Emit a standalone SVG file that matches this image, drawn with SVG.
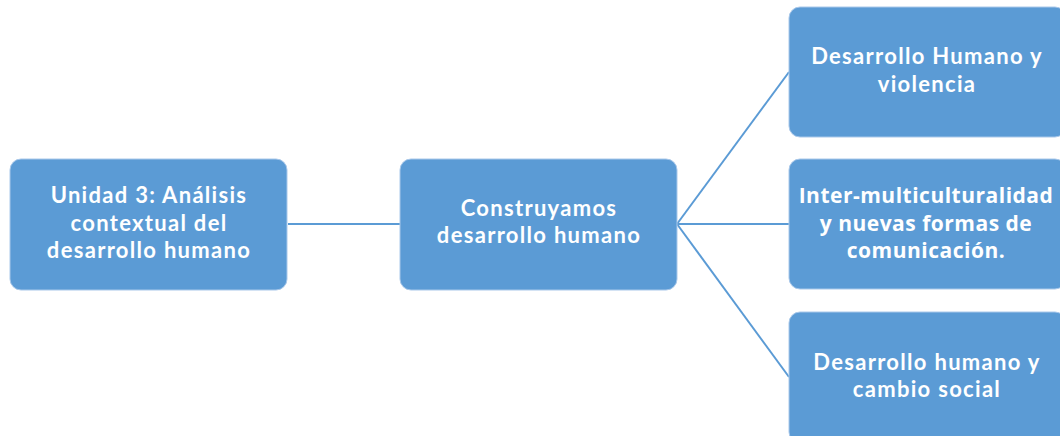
<svg xmlns="http://www.w3.org/2000/svg" width="1060" height="436" viewBox="0 0 1060 436">
<style>
.box{fill:#5B9BD5;stroke:#A9C8EA;stroke-width:1}
.t{font-family:Lato,"Liberation Sans",sans-serif;font-weight:bold;font-size:22px;letter-spacing:1.3px;fill:#FFFFFF;text-anchor:middle}
.o{font-family:"Open Sans","Liberation Sans",sans-serif;font-weight:bold;font-size:21px;letter-spacing:0.5px;fill:#FFFFFF;text-anchor:middle}
.c{stroke:#5B9BD5;stroke-width:2;fill:none}
</style>
<rect width="1060" height="436" fill="#FFFFFF"/>
<g id="connectors">
<line class="c" x1="288" y1="224" x2="400" y2="224"/>
<line class="c" x1="677" y1="224" x2="789" y2="72"/>
<line class="c" x1="677" y1="224" x2="789" y2="224"/>
<line class="c" x1="677" y1="224" x2="789" y2="377"/>
</g>
<g id="n1">
<rect class="box" x="10" y="159" width="277" height="131" rx="11"/>
<text class="t" x="149" y="203">Unidad 3: Análisis</text>
<text class="t" x="149" y="231">contextual del</text>
<text class="t" x="149" y="258">desarrollo humano</text>
</g>
<g id="n2">
<rect class="box" x="400" y="159" width="277" height="131" rx="11"/>
<text class="t" x="539" y="216">Construyamos</text>
<text class="t" x="539" y="243">desarrollo humano</text>
</g>
<g id="n3">
<rect class="box" x="789" y="7" width="277" height="130" rx="11"/>
<text class="t" x="927" y="64">Desarrollo Humano y</text>
<text class="t" x="927" y="92">violencia</text>
</g>
<g id="n4">
<rect class="box" x="789" y="159" width="277" height="130" rx="11"/>
<text class="o" x="926" y="203">Inter-multiculturalidad</text>
<text class="o" x="926" y="231">y nuevas formas de</text>
<text class="o" x="926" y="258">comunicación.</text>
</g>
<g id="n5">
<rect class="box" x="789" y="312" width="277" height="131" rx="11"/>
<text class="t" x="927" y="370">Desarrollo humano y</text>
<text class="t" x="927" y="397">cambio social</text>
</g>
</svg>
